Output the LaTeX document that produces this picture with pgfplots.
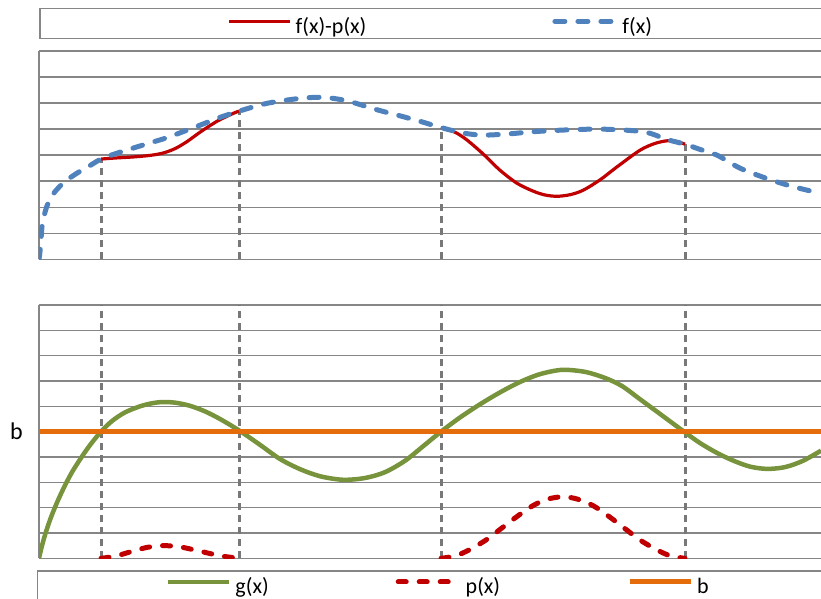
\documentclass[border=0pt]{standalone}
\usepackage{fontspec}
\setmainfont{Carlito}
\usepackage{pgfplots}
\pgfplotsset{compat=1.18}
\definecolor{cRed}{RGB}{192,0,0}
\definecolor{cBlue}{RGB}{79,129,189}
\definecolor{cGreen}{RGB}{119,147,60}
\definecolor{cOrange}{RGB}{228,108,10}
\definecolor{cGrid}{RGB}{134,134,134}
\definecolor{cVert}{RGB}{120,120,120}

\pgfplotsset{
  legend image code/.code={\draw[#1] (0pt,0.47em) -- (61pt,0.47em);},
  panel/.style={
    scale only axis, width=782pt,
    xmin=39, xmax=821,
    xtick=\empty,
    ymajorgrids, grid style={cGrid, line width=1.4pt},
    yticklabels={}, major tick length=0pt,
    axis x line*=bottom, axis y line*=left,
    axis line style={cGrid, line width=1.4pt, -},
    legend cell align=left,
  },
  vline/.style={cVert, line width=3pt, dash pattern=on 7pt off 5pt, forget plot},
}

\begin{document}
\begin{tikzpicture}
\path[use as bounding box] (0,0) rectangle (821pt,599pt);

% ---------- top panel ----------
\begin{axis}[panel,
  at={(39pt,339.7pt)}, anchor=south west, height=208.3pt,
  ymin=0, ymax=8, ytick={0,1,...,8},
  legend columns=2,
  legend style={draw=none, fill=none, inner sep=0pt, outer sep=0pt,
    at={(0.241,1.12)}, anchor=west,
    font=\fontsize{22}{26}\selectfont, nodes={inner sep=0pt},
    /tikz/every odd column/.style={column sep=4pt},
    /tikz/every even column/.style={column sep=186pt}},
]
\addplot[vline] coordinates {(101,0) (101,3.85)};
\addplot[vline] coordinates {(239,0) (239,5.69)};
\addplot[vline] coordinates {(441,0) (441,5.06)};
\addplot[vline] coordinates {(685,0) (685,4.42)};

\addplot[cRed, line width=3.2pt, smooth] coordinates {
(101,3.85) (115,3.89) (133,3.93) (150,3.99) (163,4.08) (175,4.25) (187,4.52)
(200,4.88) (217,5.3) (233,5.6) (239,5.69)};
\addlegendentry{f(x)-p(x)}
\addplot[cRed, line width=3.2pt, smooth, forget plot] coordinates {
(441,5.06) (455,4.88) (467,4.58) (483,4.05) (500,3.42) (517,2.92) (533,2.62)
(545,2.47) (557,2.42) (570,2.48) (583,2.65) (600,3.05) (617,3.55) (640,4.19)
(655,4.45) (667,4.55) (677,4.52) (685,4.42)};

\addplot[cBlue, line width=5pt, line cap=round, dash pattern=on 10pt off 13pt, smooth] coordinates {
(39,0) (40,0.3) (41,0.75) (42,1.25) (44,1.65) (46.7,2.02) (50,2.3) (55,2.6)
(63,2.92) (70,3.13) (80,3.38) (90,3.6) (101,3.85) (115,4.05) (133,4.27)
(150,4.47) (167,4.67) (183,4.9) (200,5.15) (220,5.45) (239,5.69) (267,5.99)
(300,6.18) (323,6.22) (343,6.12) (357,5.98) (370,5.82) (385,5.66) (400,5.51)
(420,5.3) (441,5.06) (463,4.85) (483,4.77) (510,4.82) (533,4.9) (567,4.97)
(600,5.0) (633,4.94) (650,4.84) (667,4.6) (685,4.42) (700,4.22) (717,4.0)
(740,3.5) (767,3.1) (793,2.79) (821,2.53)};
\addlegendentry{f(x)}
\end{axis}

% ---------- bottom panel ----------
\begin{axis}[panel,
  at={(39pt,40.7pt)}, anchor=south west, height=253.3pt,
  ymin=0, ymax=10, ytick={0,1,...,10},
  extra y ticks={5}, extra y tick labels={b},
  extra y tick style={yticklabel style={font=\fontsize{24}{24}\selectfont,
     inner sep=0pt, anchor=east, xshift=-16pt}},
  legend columns=3,
  legend style={draw=none, fill=none, inner sep=0pt, outer sep=0pt,
    at={(0.1624,-0.112)}, anchor=west,
    font=\fontsize{22}{26}\selectfont, nodes={inner sep=0pt},
    /tikz/every odd column/.style={column sep=4pt},
    /tikz/every even column/.style={column sep=127pt}},
]
\addplot[vline] coordinates {(101,0) (101,10)};
\addplot[vline] coordinates {(239,0) (239,10)};
\addplot[vline] coordinates {(441,0) (441,10)};
\addplot[vline] coordinates {(685,0) (685,10)};

\addplot[cGreen, line width=4.5pt, smooth] coordinates {
(39,0) (42,0.5) (46,1.05) (51,1.62) (57,2.2) (64,2.8) (72,3.4) (82,4.02)
(91,4.52) (101,5.0) (112,5.42) (125,5.76) (140,6.0) (152,6.12) (163,6.17)
(176,6.14) (190,6.02) (205,5.8) (220,5.5) (239,5.05) (260,4.48) (280,3.92)
(300,3.52) (320,3.24) (343,3.1) (365,3.17) (385,3.4) (405,3.85) (423,4.42)
(441,5.0) (460,5.56) (480,6.08) (500,6.55) (520,6.96) (540,7.27) (562,7.44)
(585,7.36) (605,7.12) (622,6.8) (640,6.28) (660,5.7) (684,5.0) (700,4.55)
(717,4.16) (733,3.86) (750,3.62) (767,3.53) (785,3.6) (803,3.85) (821,4.25)};
\addlegendentry{g(x)}

\addplot[cRed, line width=5pt, line cap=round, dash pattern=on 8pt off 13pt, smooth] coordinates {
(101,0) (115,0.08) (130,0.25) (147,0.43) (163,0.5) (180,0.45) (200,0.28)
(220,0.1) (239,0)};
\addlegendentry{p(x)}
\addplot[cRed, line width=5pt, line cap=round, dash pattern=on 8pt off 13pt, smooth, forget plot] coordinates {
(441,0) (456,0.1) (471.5,0.38) (487,0.75) (502,1.2) (517,1.65) (532.5,2.07)
(547,2.33) (563,2.43) (578,2.33) (593.5,2.07) (609,1.65) (624,1.2) (639,0.75)
(654.5,0.38) (670,0.1) (685,0)};

\addplot[cOrange, line width=5pt] coordinates {(39,5) (821,5)};
\addlegendentry{b}
\end{axis}

% legend frames
\draw[cGrid, line width=1.4pt] (40pt,590.3pt) rectangle (860pt,560.3pt);
\draw[cGrid, line width=1.4pt] (37.5pt,28pt) rectangle (860pt,-20pt);
\end{tikzpicture}
\end{document}
